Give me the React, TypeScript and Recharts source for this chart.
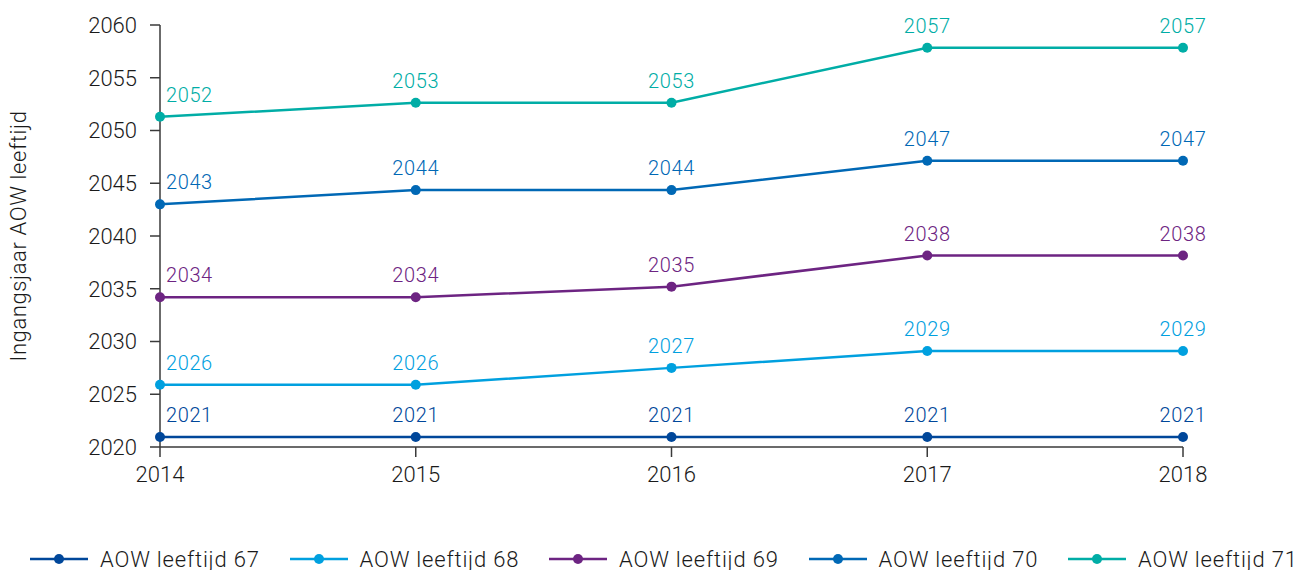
import React from 'react';
import { LineChart, Line, XAxis, YAxis, Legend, LabelList } from 'recharts';

const years = ['2014', '2015', '2016', '2017', '2018'];
const yTicks = [2020, 2025, 2030, 2035, 2040, 2045, 2050, 2055, 2060];

const values67 = [2020.95, 2020.95, 2020.95, 2020.95, 2020.95];
const values68 = [2025.9, 2025.9, 2027.5, 2029.1, 2029.1];
const values69 = [2034.2, 2034.2, 2035.2, 2038.15, 2038.15];
const values70 = [2043.0, 2044.35, 2044.35, 2047.13, 2047.13];
const values71 = [2051.3, 2052.63, 2052.63, 2057.85, 2057.85];

const labels67 = ['2021', '2021', '2021', '2021', '2021'];
const labels68 = ['2026', '2026', '2027', '2029', '2029'];
const labels69 = ['2034', '2034', '2035', '2038', '2038'];
const labels70 = ['2043', '2044', '2044', '2047', '2047'];
const labels71 = ['2052', '2053', '2053', '2057', '2057'];

const seriesNames = ['AOW leeftijd 67', 'AOW leeftijd 68', 'AOW leeftijd 69', 'AOW leeftijd 70', 'AOW leeftijd 71'];
const seriesColors = ['#00479a', '#00a0df', '#6d2482', '#0068b5', '#00ada6'];
const seriesKeys = ['v67', 'v68', 'v69', 'v70', 'v71'];
const labelKeys = ['l67', 'l68', 'l69', 'l70', 'l71'];

const allValues = [values67, values68, values69, values70, values71];
const allLabels = [labels67, labels68, labels69, labels70, labels71];

const data = years.map((year, i) => {
  const row: Record<string, string | number> = { year };
  seriesKeys.forEach((k, s) => {
    row[k] = allValues[s][i];
    row[labelKeys[s]] = allLabels[s][i];
  });
  return row;
});

const FONT = 'Roboto, "Liberation Sans", Arial, sans-serif';

const makeLabel = (color: string) => (props: any) => {
  const { x, y, value, index } = props;
  const first = index === 0;
  return (
    <text
      x={first ? x + 6 : x}
      y={y - 15}
      fill={color}
      fontSize={20}
      fontFamily={FONT}
      fontWeight={300}
      letterSpacing={0.6}
      textAnchor={first ? 'start' : 'middle'}
    >
      {value}
    </text>
  );
};

const renderLegend = () => (
  <div style={{ height: 83, position: 'relative', fontFamily: FONT }}>
    {seriesNames.map((name, i) => (
      <div
        key={name}
        style={{
          position: 'absolute',
          left: 30 + i * 259.5,
          top: 60,
          display: 'flex',
          alignItems: 'center',
          height: 24,
          whiteSpace: 'nowrap',
        }}
      >
        <svg width={58} height={14} style={{ display: 'block' }}>
          <line x1={0} y1={7} x2={58} y2={7} stroke={seriesColors[i]} strokeWidth={2.5} />
          <circle cx={29} cy={7} r={5} fill={seriesColors[i]} />
        </svg>
        <span style={{ marginLeft: 12, fontSize: 22, fontWeight: 300, letterSpacing: 0.8, color: '#1a1a1a' }}>{name}</span>
      </div>
    ))}
  </div>
);

export default function App() {
  return (
    <div style={{ position: 'absolute', left: 0, top: 0, width: 1301, height: 570, background: '#fff' }}>
      <LineChart width={1301} height={570} data={data} margin={{ top: 25, right: 118, left: 0, bottom: 0 }}>
        <XAxis
          dataKey="year"
          padding={{ left: 0, right: 0 }}
          tickSize={10}
          tickMargin={9}
          height={40}
          stroke="#3a3a3a"
          strokeWidth={1.5}
          tick={{ fill: '#1a1a1a', fontSize: 22, fontFamily: FONT, fontWeight: 300 }}
        />
        <YAxis
          domain={[2020, 2060]}
          ticks={yTicks}
          width={160}
          tickSize={10}
          tickMargin={13}
          stroke="#3a3a3a"
          strokeWidth={1.5}
          tick={{ fill: '#1a1a1a', fontSize: 22, fontFamily: FONT, fontWeight: 300 }}
          label={{
            value: 'Ingangsjaar AOW leeftijd',
            angle: -90,
            position: 'insideLeft',
            offset: 18,
            style: { textAnchor: 'middle', fill: '#1a1a1a', fontSize: 22, fontFamily: FONT, fontWeight: 300, letterSpacing: 0.6 },
          }}
        />
        <Legend verticalAlign="bottom" height={83} content={renderLegend} />
        {seriesKeys.map((k, s) => (
          <Line
            key={k}
            dataKey={k}
            name={seriesNames[s]}
            stroke={seriesColors[s]}
            strokeWidth={2.5}
            dot={{ r: 5, fill: seriesColors[s], stroke: 'none' }}
            activeDot={false}
            isAnimationActive={false}
          >
            <LabelList dataKey={labelKeys[s]} content={makeLabel(seriesColors[s])} />
          </Line>
        ))}
      </LineChart>
    </div>
  );
}
